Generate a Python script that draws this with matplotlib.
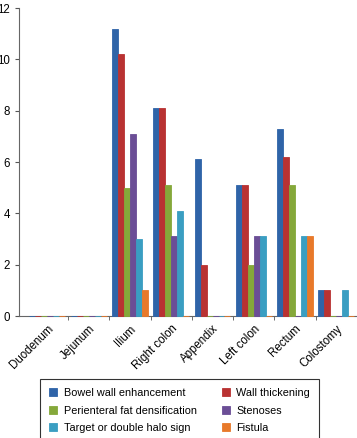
import numpy as np
import matplotlib
matplotlib.use("Agg")
import matplotlib.pyplot as plt

plt.rcParams['font.family'] = ['Liberation Sans', 'DejaVu Sans']

categories = ["Duodenum", "Jejunum", "Ilium", "Right colon", "Appendix",
              "Left colon", "Rectum", "Colostomy"]
series_names = ["Bowel wall enhancement", "Wall thickening",
                "Perienteral fat densification", "Stenoses",
                "Target or double halo sign", "Fistula"]
bowel_wall = [0, 0, 11.2, 8.1, 6.1, 5.1, 7.3, 1.0]
wall_thick = [0, 0, 10.2, 8.1, 2.0, 5.1, 6.2, 1.0]
fat_dens = [0, 0, 5.0, 5.1, 0, 2.0, 5.1, 0]
stenoses = [0, 0, 7.1, 3.1, 0, 3.1, 0, 0]
target = [0, 0, 3.0, 4.1, 0, 3.1, 3.1, 1.0]
fistula = [0, 0, 1.0, 0, 0, 0, 3.1, 0]
colors = ["#2F64A8", "#B93232", "#85A83A", "#6B4E96", "#3A9EC2", "#E8792A"]

values = [bowel_wall, wall_thick, fat_dens, stenoses, target, fistula]

fig = plt.figure(figsize=(3.57, 4.38), dpi=100)
ax = fig.add_axes([0.053, 0.2785, 0.947, 0.7032])

x = np.arange(len(categories))
w = 0.145
bars = []
for k, (vals, c) in enumerate(zip(values, colors)):
    b = ax.bar(x + (k - 2.5) * w, vals, w, color=c, edgecolor=c, linewidth=0.6,
               zorder=3, clip_on=False)
    bars.append(b)

ax.set_xlim(-0.69, 7.5)
ax.set_ylim(0, 12)
ax.set_yticks(range(0, 13, 2))
ax.set_xticks(x)
ax.set_xticklabels(categories, rotation=45, ha='right', rotation_mode='anchor',
                   fontsize=8.3)
ax.set_xticks(np.arange(len(categories)) + 0.5, minor=True)
ax.tick_params(axis='x', which='major', length=0, pad=5)
ax.tick_params(axis='x', which='minor', length=3, color='#555555')
ax.tick_params(axis='y', length=3, labelsize=8.3, color='#555555')
for s in ['top', 'right']:
    ax.spines[s].set_visible(False)
for s in ['left', 'bottom']:
    ax.spines[s].set_color('#666666')
    ax.spines[s].set_linewidth(0.8)

order = [0, 2, 4, 1, 3, 5]
leg = fig.legend([bars[i] for i in order], [series_names[i] for i in order],
                 loc='upper left', bbox_to_anchor=(0.112, 0.135), ncol=2,
                 fontsize=7.8, frameon=True, fancybox=False, edgecolor='black',
                 handlelength=0.75, handleheight=0.75, handletextpad=0.6,
                 columnspacing=2.3, labelspacing=0.7, borderpad=0.85,
                 borderaxespad=0)
leg.get_frame().set_linewidth(0.8)

fig.savefig("out.png", dpi=100)
